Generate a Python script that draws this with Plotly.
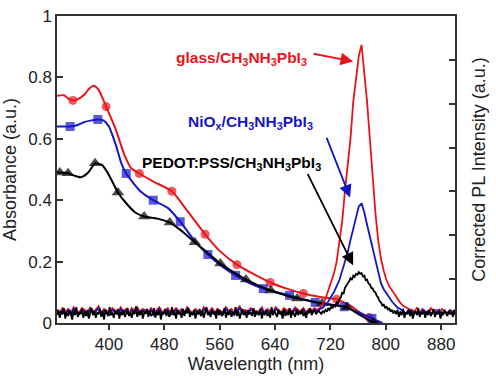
import numpy as np
import plotly.graph_objects as go

# ---------------- Absorbance data (left axis) ----------------
glass_wl = [325, 335, 342, 348, 356, 365, 372, 378, 385, 396, 410, 422, 432, 444, 465, 491,
            515, 539, 560, 585, 610, 633, 657, 681, 705, 729, 750, 765, 776, 790]
glass_abs = [0.74, 0.742, 0.73, 0.725, 0.73, 0.745, 0.765, 0.773, 0.76, 0.705, 0.63, 0.55, 0.505,
             0.487, 0.46, 0.429, 0.36, 0.289, 0.235, 0.19, 0.158, 0.132, 0.112, 0.096, 0.085,
             0.077, 0.055, 0.03, 0.018, 0.0]
glass_mk = [0, 0, 0, 1, 0, 0, 0, 0, 0, 1, 0, 0, 0, 1, 0, 1, 0, 1, 0, 1, 0, 1, 0, 1, 0, 1, 0, 0, 1, 0]

niox_wl = [325, 335, 344, 355, 365, 375, 384, 392, 400, 410, 418, 425, 445, 464, 485, 503, 523,
           543, 563, 583, 603, 623, 642, 661, 680, 698, 720, 740, 760, 780, 795]
niox_abs = [0.64, 0.64, 0.64, 0.645, 0.655, 0.66, 0.663, 0.66, 0.64, 0.58, 0.52, 0.487, 0.43,
            0.40, 0.375, 0.33, 0.27, 0.223, 0.185, 0.155, 0.13, 0.112, 0.10, 0.09, 0.078,
            0.067, 0.06, 0.053, 0.035, 0.015, 0.0]
niox_mk = [0, 0, 1, 0, 0, 0, 1, 0, 0, 0, 0, 1, 0, 1, 0, 1, 0, 1, 0, 1, 0, 1, 0, 1, 0, 1, 0, 1, 0, 1, 0]

pedot_wl = [325, 329, 341, 350, 360, 370, 380, 390, 398, 405, 413, 425, 438, 451, 470, 488, 505,
            524, 543, 561, 580, 598, 616, 634, 653, 672, 690, 708, 726, 744, 760, 782, 790]
pedot_abs = [0.49, 0.49, 0.488, 0.48, 0.475, 0.49, 0.52, 0.515, 0.49, 0.46, 0.425, 0.39, 0.36,
             0.347, 0.34, 0.327, 0.30, 0.263, 0.228, 0.194, 0.166, 0.142, 0.122, 0.106, 0.092,
             0.08, 0.072, 0.064, 0.058, 0.051, 0.03, 0.002, 0.0]
pedot_mk = [0, 1, 1, 0, 0, 0, 1, 0, 0, 0, 1, 0, 0, 1, 0, 1, 0, 1, 0, 1, 0, 1, 0, 1, 0, 1, 0, 1,
            0, 1, 0, 1, 0]

# ---------------- PL data (right axis) ----------------
# glass and NiOx: 4 nm grid 325..901 nm
pl_wl = np.arange(325, 902, 4)

glass_pl = [
    0.30, 0.24, 0.34, 0.26, 0.32, 0.22, 0.36, 0.28, 0.24, 0.34,
    0.30, 0.22, 0.36, 0.26, 0.30, 0.38, 0.24, 0.32, 0.28, 0.22,
    0.34, 0.28, 0.24, 0.36, 0.26, 0.32, 0.22, 0.34, 0.28, 0.36,
    0.24, 0.32, 0.28, 0.26, 0.34, 0.22, 0.30, 0.36, 0.24, 0.30,
    0.34, 0.22, 0.28, 0.34, 0.26, 0.32, 0.24, 0.36, 0.28, 0.24,
    0.32, 0.28, 0.22, 0.36, 0.30, 0.26, 0.34, 0.24, 0.32, 0.28,
    0.24, 0.36, 0.28, 0.32, 0.22, 0.30, 0.38, 0.26, 0.30, 0.24,
    0.34, 0.30, 0.24, 0.28, 0.36, 0.22, 0.32, 0.28, 0.26, 0.36,
    0.30, 0.24, 0.34, 0.28, 0.32, 0.26, 0.36, 0.30, 0.26, 0.34,
    0.24, 0.32, 0.28, 0.34, 0.30,
    0.35, 0.42, 0.56, 0.74, 0.91, 1.12, 1.40, 1.82, 2.31, 3.01, 3.64, 4.20, 5.04, 5.60, 6.09,
    6.34, 5.74, 5.04, 4.20, 3.29, 2.52, 1.89, 1.47, 1.19, 0.98, 0.84, 0.74, 0.63, 0.53, 0.46,
    0.39, 0.35, 0.32,
    0.30, 0.26, 0.34, 0.24, 0.32, 0.28, 0.22, 0.34, 0.26, 0.30, 0.24, 0.32, 0.28, 0.22, 0.30,
    0.26, 0.28]

niox_pl = [
    0.26, 0.20, 0.30, 0.22, 0.28, 0.18, 0.32, 0.24, 0.20, 0.30,
    0.26, 0.18, 0.32, 0.22, 0.26, 0.34, 0.20, 0.28, 0.24, 0.18,
    0.30, 0.24, 0.20, 0.32, 0.22, 0.28, 0.18, 0.30, 0.24, 0.32,
    0.20, 0.28, 0.24, 0.22, 0.30, 0.18, 0.26, 0.32, 0.20, 0.26,
    0.30, 0.18, 0.24, 0.30, 0.22, 0.28, 0.20, 0.32, 0.24, 0.20,
    0.28, 0.24, 0.18, 0.32, 0.26, 0.22, 0.30, 0.20, 0.28, 0.24,
    0.20, 0.32, 0.24, 0.28, 0.18, 0.26, 0.34, 0.22, 0.26, 0.20,
    0.30, 0.26, 0.20, 0.24, 0.32, 0.18, 0.28, 0.24, 0.22, 0.32,
    0.26, 0.20, 0.30, 0.24, 0.28, 0.22, 0.32, 0.26, 0.22, 0.30,
    0.20, 0.28, 0.24, 0.30, 0.26,
    0.32, 0.35, 0.42, 0.49, 0.60, 0.70, 0.84, 0.98, 1.19, 1.40, 1.61, 1.89, 2.17, 2.45, 2.66,
    2.73, 2.52, 2.24, 1.96, 1.68, 1.40, 1.12, 0.91, 0.77, 0.67, 0.56, 0.49, 0.42, 0.35, 0.32,
    0.28, 0.22, 0.30, 0.20, 0.26, 0.24, 0.18, 0.30, 0.22, 0.28, 0.20, 0.26, 0.24, 0.30, 0.18,
    0.26, 0.22, 0.28, 0.24, 0.20]

# PEDOT:PSS: 2 nm grid 325..901 nm
pedot_pl_wl = np.arange(325, 902, 2)
pedot_pl = [
    0.18, 0.30, 0.12, 0.26, 0.20, 0.34, 0.10, 0.24, 0.16, 0.30,
    0.22, 0.08, 0.28, 0.18, 0.36, 0.14, 0.24, 0.20, 0.32, 0.12,
    0.26, 0.16, 0.30, 0.10, 0.22, 0.34, 0.18, 0.28, 0.12, 0.24,
    0.20, 0.32, 0.14, 0.26, 0.08, 0.30, 0.22, 0.16, 0.36, 0.18,
    0.24, 0.12, 0.28, 0.20, 0.32, 0.10, 0.26, 0.18, 0.30, 0.14,
    0.22, 0.34, 0.16, 0.24, 0.12, 0.28, 0.20, 0.38, 0.14, 0.26,
    0.18, 0.30, 0.10, 0.24, 0.22, 0.32, 0.14, 0.28, 0.16, 0.20,
    0.34, 0.12, 0.26, 0.18, 0.30, 0.08, 0.24, 0.20, 0.32, 0.16,
    0.28, 0.14, 0.22, 0.36, 0.18, 0.26, 0.10, 0.30, 0.20, 0.24,
    0.12, 0.32, 0.16, 0.28, 0.22, 0.34, 0.14, 0.24, 0.18, 0.30,
    0.10, 0.26, 0.20, 0.32, 0.16, 0.28, 0.12, 0.22, 0.36, 0.18,
    0.24, 0.14, 0.30, 0.20, 0.26, 0.10, 0.32, 0.18, 0.28, 0.16,
    0.22, 0.34, 0.12, 0.26, 0.18, 0.30, 0.14, 0.24, 0.20, 0.36,
    0.16, 0.28, 0.10, 0.22, 0.32, 0.18, 0.26, 0.12, 0.30, 0.20,
    0.24, 0.16, 0.34, 0.14, 0.28, 0.22, 0.18, 0.32, 0.10, 0.26,
    0.20, 0.30, 0.16, 0.24, 0.12, 0.36, 0.18, 0.28, 0.22, 0.14,
    0.30, 0.20, 0.26, 0.10, 0.32, 0.16, 0.24, 0.18, 0.34, 0.12,
    0.28, 0.22, 0.14, 0.30, 0.18, 0.26, 0.20, 0.32, 0.16, 0.24,
    0.12, 0.28, 0.22, 0.34, 0.18, 0.26, 0.30, 0.20, 0.24, 0.28,
    0.24, 0.20, 0.28, 0.24, 0.30, 0.26, 0.34, 0.30, 0.37, 0.33,
    0.41, 0.38, 0.47, 0.44, 0.55, 0.58, 0.70, 0.66, 0.80, 0.84,
    0.90, 0.95, 1.02, 0.98, 1.08, 1.05, 1.12, 1.10, 1.16, 1.12,
    1.14, 1.06, 1.08, 0.98, 0.99, 0.90, 0.88, 0.80, 0.79, 0.72,
    0.70, 0.62, 0.58, 0.50, 0.47, 0.40, 0.42, 0.34, 0.38, 0.30,
    0.34, 0.26, 0.30, 0.22, 0.28,
    0.20, 0.30, 0.14, 0.26, 0.18, 0.32, 0.12, 0.24, 0.20, 0.28,
    0.16, 0.30, 0.10, 0.22, 0.26, 0.18, 0.34, 0.14, 0.24, 0.20,
    0.28, 0.12, 0.26, 0.18, 0.30, 0.16, 0.22, 0.32, 0.14, 0.24,
    0.20, 0.28, 0.10, 0.26, 0.18, 0.30, 0.22, 0.16, 0.28, 0.20,
    0.24, 0.14, 0.30, 0.18]

x_ticks = [400, 480, 560, 640, 720, 800, 880]
y_ticks = [0, 0.2, 0.4, 0.6, 0.8, 1]

RED = "#e8141b"
BLUE = "#1414c8"
BLACK = "#000000"
AX = "#333333"
FONT = "Liberation Sans, Arial, sans-serif"

fig = go.Figure()

# PL traces (right axis)
for wl, vals, col, w in [(pl_wl, glass_pl, RED, 1.8), (pl_wl, niox_pl, BLUE, 1.8),
                         (pedot_pl_wl, pedot_pl, BLACK, 1.8)]:
    fig.add_trace(go.Scatter(x=wl, y=vals, mode="lines", yaxis="y2",
                             line=dict(color=col, width=w), showlegend=False,
                             hoverinfo="skip"))

# Absorbance traces (left axis)
for wl, ab, mk, col, sym, sz in [
        (glass_wl, glass_abs, glass_mk, RED, "circle", 9),
        (niox_wl, niox_abs, niox_mk, BLUE, "square", 9),
        (pedot_wl, pedot_abs, pedot_mk, BLACK, "triangle-up", 11)]:
    fig.add_trace(go.Scatter(
        x=wl, y=ab, mode="lines+markers",
        line=dict(color=col, width=2, shape="spline", smoothing=0.6),
        marker=dict(symbol=sym, color=col, size=[sz if m else 0 for m in mk],
                    line=dict(width=0)),
        showlegend=False, hoverinfo="skip"))

ann_font = dict(family=FONT, size=15.5)
annotations = [
    dict(x=494, y=0.862, xref="x", yref="y", xanchor="left", yanchor="middle",
         text="<b>glass/CH<sub>3</sub>NH<sub>3</sub>PbI<sub>3</sub></b>",
         showarrow=False, font=dict(color=RED, **ann_font)),
    dict(x=512, y=0.652, xref="x", yref="y", xanchor="left", yanchor="middle",
         text="<b>NiO<sub>x</sub>/CH<sub>3</sub>NH<sub>3</sub>PbI<sub>3</sub></b>",
         showarrow=False, font=dict(color=BLUE, **ann_font)),
    dict(x=445, y=0.518, xref="x", yref="y", xanchor="left", yanchor="middle",
         text="<b>PEDOT:PSS/CH<sub>3</sub>NH<sub>3</sub>PbI<sub>3</sub></b>",
         showarrow=False, font=dict(color=BLACK, **ann_font)),
    dict(x=752.8, y=0.852, ax=693.5, ay=0.878, xref="x", yref="y", axref="x", ayref="y",
         text="", showarrow=True, arrowhead=2, arrowsize=1.4, arrowwidth=1.8, arrowcolor=RED),
    dict(x=748.4, y=0.409, ax=713.7, ay=0.608, xref="x", yref="y", axref="x", ayref="y",
         text="", showarrow=True, arrowhead=2, arrowsize=1.4, arrowwidth=1.8, arrowcolor=BLUE),
    dict(x=752.8, y=0.188, ax=686.2, ay=0.49, xref="x", yref="y", axref="x", ayref="y",
         text="", showarrow=True, arrowhead=2, arrowsize=1.4, arrowwidth=1.8, arrowcolor=BLACK),
]

fig.update_layout(
    width=496, height=378,
    margin=dict(l=57, r=41, t=16, b=55),
    paper_bgcolor="white", plot_bgcolor="white",
    font=dict(family=FONT, color="#222222", size=17),
    annotations=annotations,
    xaxis=dict(range=[325, 900], tickvals=x_ticks, ticks="outside", ticklen=5,
               tickcolor=AX, tickwidth=1.5, showline=True, linecolor=AX, linewidth=1.5,
               mirror=True, showgrid=False, zeroline=False, automargin=False,
               tickfont=dict(size=17),
               title=dict(text="Wavelength (nm)", font=dict(size=18), standoff=3)),
    yaxis=dict(range=[0, 1], tickvals=y_ticks, ticks="inside", ticklen=6,
               tickcolor=AX, tickwidth=1.5, showline=True, linecolor=AX, linewidth=1.5,
               showgrid=False, zeroline=False, automargin=False, tickfont=dict(size=17),
               title=dict(text="Absorbance (a.u.)", font=dict(size=18), standoff=7)),
    yaxis2=dict(range=[0, 7], dtick=1, overlaying="y", side="right", anchor="x",
                ticks="inside", ticklen=6, tickcolor=AX, tickwidth=1.5,
                showticklabels=False, showline=True, linecolor=AX, linewidth=1.5,
                showgrid=False, zeroline=False, automargin=False,
                title=dict(text="Corrected PL Intensity (a.u.)", font=dict(size=18),
                           standoff=17)),
)

fig.write_html("out.html")
